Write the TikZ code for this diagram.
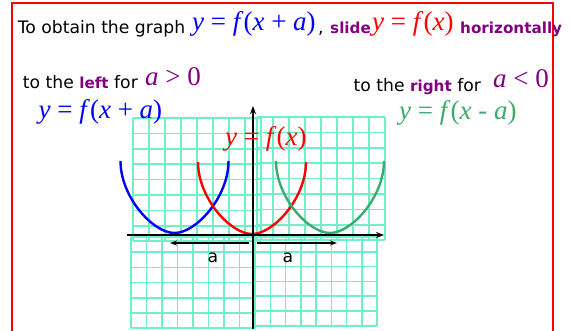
\documentclass[tikz,border=0pt]{standalone}
\usepackage{fontspec}
\setmainfont{DejaVu Sans}
\newfontfamily\tms{Liberation Serif}
\usetikzlibrary{arrows.meta}
\definecolor{gridc}{RGB}{110,240,200}
\definecolor{purp}{RGB}{128,0,128}
\definecolor{grn}{RGB}{60,170,110}
\definecolor{blu}{RGB}{0,0,255}
\newcommand\mth[1]{{\tms\fontsize{27}{30}\selectfont #1}}
\newcommand\bw[1]{{\fontsize{15.2}{18}\selectfont\bfseries\color{purp}#1}}
\newcommand\gpatch[6]{%
  \foreach \i in {0,...,#3} \draw[gridline] ({#1+\i*#5},#2) -- ++(0,{#4*#6});
  \foreach \j in {0,...,#4} \draw[gridline] (#1,{#2+\j*#6}) -- ++({#3*#5},0);}
\newcommand\ucurve[4]{% name, cx, vy, color
  \draw[curve,#4] ({#2-54},{#3-72}) .. controls ({#2-54},{#3-36}) and ({#2-21.6},#3) .. (#2,#3)
     .. controls ({#2+21.6},#3) and ({#2+54},{#3-36}) .. ({#2+54},{#3-72});}
\begin{document}
\begin{tikzpicture}[x=1pt,y=-1pt,
  gridline/.style={draw=gridc,line width=1.5pt},
  axisline/.style={line width=2.2pt,-{Stealth[length=8pt,width=6pt]}},
  shiftarrow/.style={line width=1.8pt,-{Stealth[length=7pt,width=5pt]}},
  curve/.style={line width=2.4pt},
  txt/.style={anchor=base west,inner sep=0pt,font=\fontsize{17.2}{19}\selectfont},
  eq/.style={anchor=base west,inner sep=0pt}]
\useasboundingbox (0,0) rectangle (572,331);
\clip (0,0) rectangle (572,331);
\draw[red,line width=2pt] (12,3) rectangle (553,345);
% grid patches
\gpatch{133}{118}{8}{8}{16}{15.4}
\gpatch{257}{117}{8}{8}{16}{15.4}
\gpatch{131}{237}{8}{6}{15.5}{15.2}
\gpatch{255}{237}{8}{6}{15.25}{14.8}
% curves
\ucurve{blue}{174.5}{233}{blu}
\ucurve{red}{252}{234}{red}
\ucurve{green}{330}{233}{grn}
% axes
\coordinate (xl) at (127,235);
\coordinate (xr) at (384,235);
\coordinate (yb) at (253,329);
\coordinate (yt) at (253,106);
\draw[axisline] (xl) -- (xr);
\draw[axisline] (yb) -- (yt);
% shift arrows
\coordinate (la1) at (249,243);
\coordinate (la2) at (170,243);
\coordinate (ra1) at (257,243);
\coordinate (ra2) at (337,243);
\draw[shiftarrow] (la1) -- (la2);
\draw[shiftarrow] (ra1) -- (ra2);
\node[txt,anchor=base] (al) at (213,262) {a};
\node[txt,anchor=base] (ar) at (288,262) {a};
% title line
\node[txt] (t1) at (17.6,33.7) {To obtain the graph};
\node[eq,text=blu] (t2) at (192,31) {\mth{\textit{y} = \textit{f}(\textit{x} + \textit{a})}};
\node[txt] (t3) at (318,33.7) {,};
\node[txt] (t3b) at (330,33.7) {\bw{slide}};
\node[eq,text=red] (t4) at (372,31) {\mth{\textit{y} = \textit{f}(\textit{x})}};
\node[txt] (t5) at (460,33.7) {\bw{horizontally}};
% left side
\node[txt] (l1) at (22.7,89) {to the \bw{left} for};
\node[eq,text=purp] (l2) at (145,85.6) {\mth{\textit{a} > 0}};
\node[eq,text=blu] (l3) at (38.5,118.6) {\mth{\textit{y} = \textit{f}(\textit{x} + \textit{a})}};
% right side
\node[txt] (r1) at (353.5,92) {to the \bw{right} for};
\node[eq,text=purp] (r2) at (493,88) {\mth{\textit{a} < 0}};
\node[eq,text=grn] (r3) at (399,120) {\mth{\textit{y} = \textit{f}(\textit{x} - \textit{a})}};
% graph label
\node[eq,text=red] (g1) at (225,146) {\mth{\textit{y} = \textit{f}(\textit{x})}};
\end{tikzpicture}
\end{document}
